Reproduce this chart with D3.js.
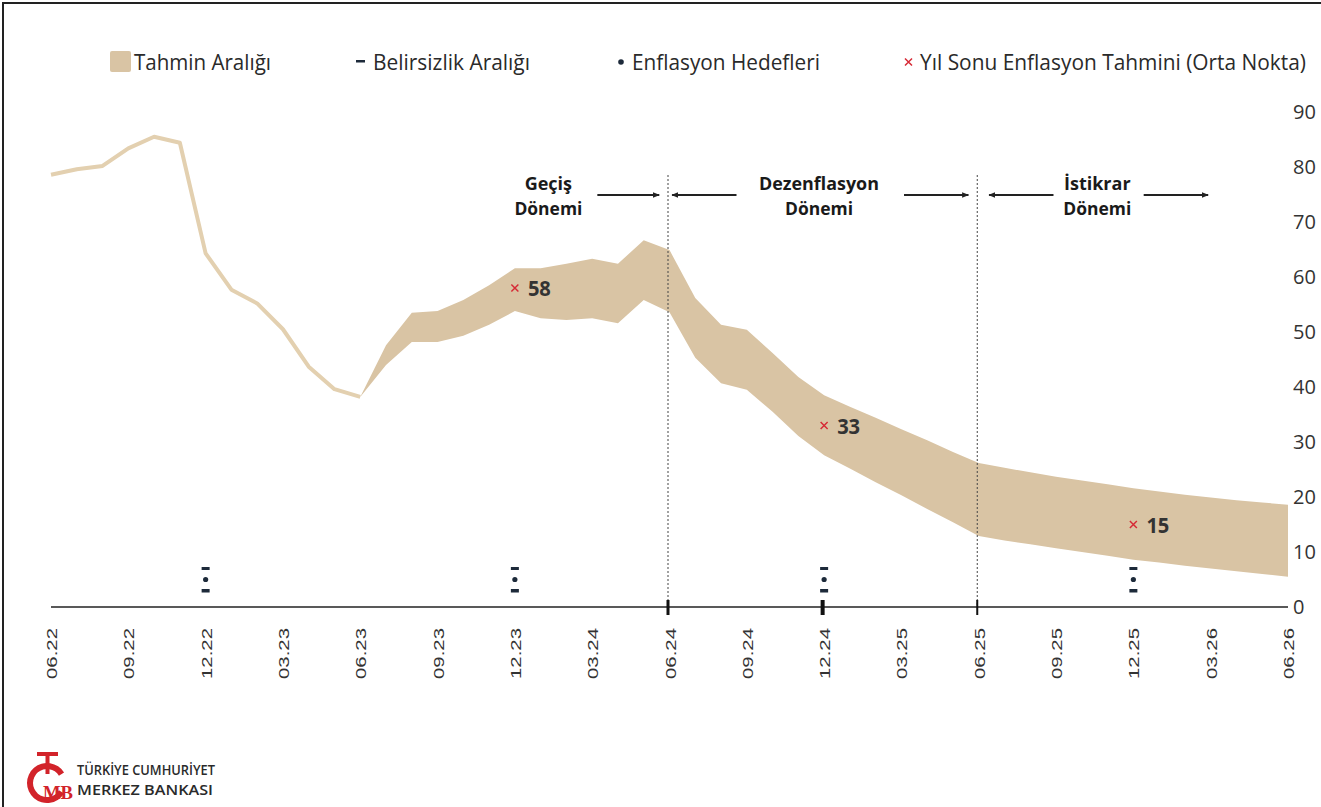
<!DOCTYPE html>
<html>
<head>
<meta charset="utf-8">
<script src="https://cdn.jsdelivr.net/npm/d3@7/dist/d3.min.js"></script>
<style>
  html, body { margin: 0; padding: 0; background: #fff; }
  svg { display: block; }
</style>
</head>
<body>
<svg id="chart" width="1321" height="807"></svg>
<script>
// ---------------- DATA ----------------
// month index 0 = 06.22 ... 48 = 06.26
const tickLabels = ["06.22","09.22","12.22","03.23","06.23","09.23","12.23","03.24","06.24","09.24","12.24","03.25","06.25","09.25","12.25","03.26","06.26"];
const histStart = 0;
const histValues = [78.6, 79.6, 80.2, 83.4, 85.5, 84.4, 64.3, 57.7, 55.2, 50.5, 43.7, 39.6, 38.2];
const bandStart = 12;
const bandUpper = [38.2, 47.6, 53.5, 53.8, 55.8, 58.5, 61.6, 61.6, 62.4, 63.3, 62.4, 66.7, 64.9,
                   56.2, 51.3, 50.4, 46.2, 41.8, 38.5, 36.4, 34.4, 32.3, 30.3, 28.2, 26.2,
                   25.3, 24.5, 23.7, 23.0, 22.3, 21.6, 21.0, 20.4, 19.9, 19.4, 19.0, 18.6];
const bandLower = [38.2, 44.0, 48.2, 48.2, 49.3, 51.3, 53.8, 52.5, 52.2, 52.5, 51.6, 55.8, 53.6,
                   45.3, 40.7, 39.5, 35.5, 31.1, 27.6, 25.2, 22.7, 20.3, 17.8, 15.4, 12.9,
                   12.1, 11.4, 10.7, 10.0, 9.3, 8.6, 8.1, 7.5, 7.0, 6.5, 6.0, 5.5];
const midMonths = [18, 30, 42];
const midValues = [58, 33, 15];
const targetMonths = [6, 18, 30, 42];
const targetValues = [5, 5, 5, 5];
const targetLow = [3, 3, 3, 3];
const targetHigh = [7, 7, 7, 7];
const yTicks = [0, 10, 20, 30, 40, 50, 60, 70, 80, 90];
const dividerMonths = [24, 36];
const markedTickMonths = [24, 30, 36];
const markedTickWidths = [3, 4, 2];
const periodNames = [["Geçiş", "Dönemi"], ["Dezenflasyon", "Dönemi"], ["İstikrar", "Dönemi"]];
const periodCenters = [19.3, 29.8, 40.6];
const legendLabels = ["Tahmin Aralığı", "Belirsizlik Aralığı", "Enflasyon Hedefleri", "Yıl Sonu Enflasyon Tahmini (Orta Nokta)"];

// ---------------- SETUP ----------------
const svg = d3.select("#chart");
const W = 1321, H = 807;
const x = d3.scaleLinear().domain([0, 48]).range([51, 1288]);
const y = d3.scaleLinear().domain([0, 90]).range([607, 112]);

const bandColor = "#d9c4a4";
const lineColor = "#e3d0b0";
const textColor = "#2a2a2a";
const navy = "#1d2a3a";
const red = "#d62a36";

svg.append("rect").attr("width", W).attr("height", H).attr("fill", "#fff");

// frame
svg.append("path").attr("d", `M3,${H} L3,3 L${W},3`).attr("fill", "none").attr("stroke", "#222").attr("stroke-width", 2);

const defs = svg.append("defs");
defs.append("marker").attr("id", "arr").attr("viewBox", "0 0 10 10")
  .attr("refX", 9).attr("refY", 5).attr("markerWidth", 7).attr("markerHeight", 7)
  .attr("markerUnits", "userSpaceOnUse").attr("orient", "auto")
  .append("path").attr("d", "M0,1 L10,5 L0,9 Z").attr("fill", "#222");

// ---------------- BAND ----------------
const bandData = bandUpper.map((u, i) => ({ m: bandStart + i, u: u, l: bandLower[i] }));
svg.append("path").datum(bandData)
  .attr("d", d3.area().x(d => x(d.m)).y0(d => y(d.l)).y1(d => y(d.u)))
  .attr("fill", bandColor);

// ---------------- HISTORY LINE ----------------
const histData = histValues.map((v, i) => ({ m: histStart + i, v }));
svg.append("path").datum(histData)
  .attr("d", d3.line().x(d => x(d.m)).y(d => y(d.v)))
  .attr("fill", "none").attr("stroke", lineColor).attr("stroke-width", 4).attr("stroke-linejoin", "round");

// ---------------- DIVIDERS ----------------
svg.selectAll(".divider").data(dividerMonths).enter().append("line")
  .attr("x1", d => x(d) - 1.5).attr("x2", d => x(d) - 1.5)
  .attr("y1", 175).attr("y2", y(0))
  .attr("stroke", "#444").attr("stroke-width", 1).attr("stroke-dasharray", "2,2");

// ---------------- X AXIS ----------------
svg.append("line").attr("x1", x(0)).attr("x2", x(48)).attr("y1", y(0)).attr("y2", y(0))
  .attr("stroke", "#222").attr("stroke-width", 1.6);

svg.selectAll(".mtick").data(markedTickMonths).enter().append("rect")
  .attr("x", (d, i) => x(d) - 1.5 - markedTickWidths[i] / 2)
  .attr("width", (d, i) => markedTickWidths[i])
  .attr("y", y(0) - 7).attr("height", 15).attr("fill", "#111");

svg.selectAll(".xlab").data(tickLabels).enter().append("text")
  .attr("transform", (d, i) => `translate(${x(i * 3) + 6},628) rotate(-90)`)
  .attr("text-anchor", "end")
  .attr("font-family", "Liberation Sans, Arial, sans-serif")
  .attr("font-size", 15)
  .attr("textLength", 51).attr("lengthAdjust", "spacingAndGlyphs")
  .attr("fill", "#333")
  .text(d => d);

// ---------------- Y AXIS (right) ----------------
svg.selectAll(".ylab").data(yTicks).enter().append("text")
  .attr("x", 1293).attr("y", d => y(d) + 7)
  .attr("font-family", "Open Sans, sans-serif").attr("font-size", 20)
  .attr("fill", "#333")
  .text(d => d);

// ---------------- TARGETS ----------------
const tg = svg.selectAll(".target").data(targetMonths).enter().append("g");
tg.append("rect").attr("x", d => x(d) - 4).attr("width", 8)
  .attr("y", (d, i) => y(targetHigh[i]) - 1.5).attr("height", 3).attr("fill", navy);
tg.append("rect").attr("x", d => x(d) - 4).attr("width", 8)
  .attr("y", (d, i) => y(targetLow[i]) - 1.5).attr("height", 3.5).attr("fill", navy);
tg.append("circle").attr("cx", d => x(d)).attr("cy", (d, i) => y(targetValues[i])).attr("r", 2.6).attr("fill", navy);

// ---------------- MIDPOINTS ----------------
const mg = svg.selectAll(".mid").data(midMonths).enter().append("g");
mg.append("path")
  .attr("d", (d, i) => { const cx = x(d), cy = y(midValues[i]); return `M${cx-3.5},${cy-3.5}L${cx+3.5},${cy+3.5}M${cx-3.5},${cy+3.5}L${cx+3.5},${cy-3.5}`; })
  .attr("stroke", red).attr("stroke-width", 1.5);
mg.append("text")
  .attr("x", d => x(d) + 13).attr("y", (d, i) => y(midValues[i]) + 8)
  .attr("font-family", "Open Sans, sans-serif").attr("font-weight", "bold").attr("font-size", 21)
  .attr("textLength", 23).attr("lengthAdjust", "spacingAndGlyphs")
  .attr("fill", "#333")
  .text((d, i) => midValues[i]);

// ---------------- PERIOD ANNOTATIONS ----------------
const pg = svg.selectAll(".period").data(periodNames).enter().append("g");
pg.append("text").attr("x", (d, i) => x(periodCenters[i])).attr("y", 190)
  .attr("text-anchor", "middle").attr("font-family", "Open Sans, sans-serif")
  .attr("font-weight", "bold").attr("font-size", 18).attr("fill", "#1a1a1a")
  .each(function (d) { if (d[0].length > 8) d3.select(this).attr("textLength", 120).attr("lengthAdjust", "spacingAndGlyphs"); })
  .text(d => d[0]);
pg.append("text").attr("x", (d, i) => x(periodCenters[i])).attr("y", 215)
  .attr("text-anchor", "middle").attr("font-family", "Open Sans, sans-serif")
  .attr("font-weight", "bold").attr("font-size", 18).attr("fill", "#1a1a1a")
  .attr("textLength", 68).attr("lengthAdjust", "spacingAndGlyphs")
  .text(d => d[1]);

// arrows (in month units)
const arrows = [[21.2, 23.6], [26.6, 24.1], [33.1, 35.6], [38.9, 36.4], [42.4, 44.9]];
svg.selectAll(".arrow").data(arrows).enter().append("line")
  .attr("x1", d => x(d[0])).attr("x2", d => x(d[1]))
  .attr("y1", 195).attr("y2", 195)
  .attr("stroke", "#222").attr("stroke-width", 1.8)
  .attr("marker-end", "url(#arr)");

// ---------------- LEGEND ----------------
const lg = svg.append("g").attr("font-family", "Open Sans, sans-serif").attr("font-size", 21).attr("fill", textColor);
lg.append("rect").attr("x", 110).attr("y", 51).attr("width", 21).attr("height", 21).attr("rx", 2).attr("fill", bandColor);
lg.append("text").attr("x", 134).attr("y", 70).attr("textLength", 137).attr("lengthAdjust", "spacingAndGlyphs").text(legendLabels[0]);
lg.append("rect").attr("x", 356).attr("y", 60).attr("width", 9).attr("height", 2.5).attr("fill", navy);
lg.append("text").attr("x", 373).attr("y", 70).attr("textLength", 157).attr("lengthAdjust", "spacingAndGlyphs").text(legendLabels[1]);
lg.append("circle").attr("cx", 621).attr("cy", 62).attr("r", 2.8).attr("fill", navy);
lg.append("text").attr("x", 632).attr("y", 70).attr("textLength", 188).attr("lengthAdjust", "spacingAndGlyphs").text(legendLabels[2]);
lg.append("path").attr("d", "M905,58.5L912,65.5M905,65.5L912,58.5").attr("stroke", red).attr("stroke-width", 1.5);
lg.append("text").attr("x", 920).attr("y", 70).attr("textLength", 386).attr("lengthAdjust", "spacingAndGlyphs").text(legendLabels[3]);

// ---------------- LOGO ----------------
const logo = svg.append("g");
const arc = d3.arc().innerRadius(14).outerRadius(20).startAngle(0.5 * Math.PI + 0.55).endAngle(2.5 * Math.PI - 0.55);
logo.append("path").attr("d", arc()).attr("transform", "translate(47,783)").attr("fill", "#d2232a");
logo.append("rect").attr("x", 37).attr("y", 752).attr("width", 21).attr("height", 4).attr("fill", "#d2232a");
logo.append("rect").attr("x", 45.5).attr("y", 752).attr("width", 4).attr("height", 22).attr("fill", "#d2232a");
logo.append("text").attr("x", 43).attr("y", 799).attr("font-family", "Liberation Serif, serif").attr("font-weight", "bold")
  .attr("font-size", 19).attr("fill", "#d2232a").attr("textLength", 30).attr("lengthAdjust", "spacingAndGlyphs").text("MB");
logo.append("text").attr("x", 77).attr("y", 775).attr("font-family", "Open Sans, sans-serif").attr("font-weight", "600")
  .attr("font-size", 14).attr("fill", "#2a2a2a").attr("textLength", 138).attr("lengthAdjust", "spacingAndGlyphs").text("TÜRKİYE CUMHURİYET");
logo.append("text").attr("x", 77).attr("y", 795).attr("font-family", "Open Sans, sans-serif").attr("font-weight", "600")
  .attr("font-size", 14).attr("fill", "#2a2a2a").attr("textLength", 136).attr("lengthAdjust", "spacingAndGlyphs").text("MERKEZ BANKASI");
</script>
</body>
</html>
